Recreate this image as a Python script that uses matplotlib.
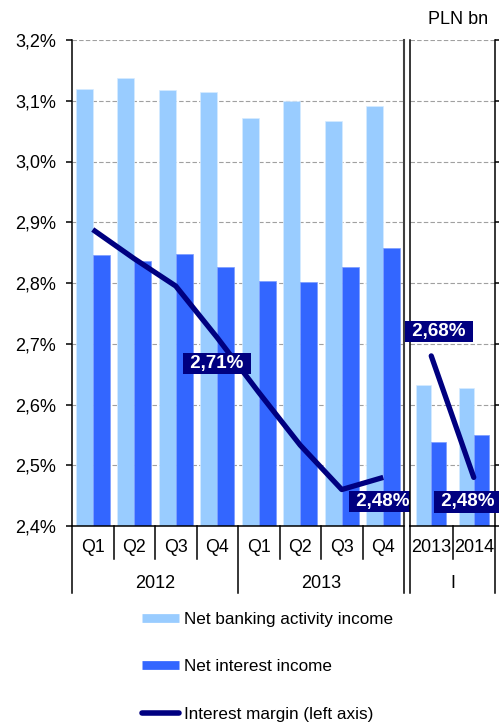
import numpy as np
import matplotlib
matplotlib.use("Agg")
import matplotlib.pyplot as plt
from matplotlib.lines import Line2D
from matplotlib.ticker import FuncFormatter

plt.rcParams['font.family'] = ['Liberation Sans', 'DejaVu Sans']

# quarterly data, 2012-2013
quarters = ['Q1', 'Q2', 'Q3', 'Q4', 'Q1', 'Q2', 'Q3', 'Q4']
years = ['2012', '2013']
banking_q = [3.119, 3.138, 3.117, 3.115, 3.071, 3.099, 3.066, 3.091]
interest_q = [2.846, 2.836, 2.848, 2.827, 2.803, 2.801, 2.827, 2.857]
margin_q = [2.888, 2.84, 2.795, 2.71, 2.62, 2.533, 2.46, 2.48]

# first quarter, year on year
q1_years = ['2013', '2014']
banking_q1 = [2.632, 2.627]
interest_q1 = [2.539, 2.550]
margin_q1 = [2.68, 2.48]

LIGHT = '#99CCFF'
DARK = '#3366FF'
NAVY = '#000080'

fig = plt.figure(figsize=(4.99, 7.23), dpi=100)
H = 723.0
W = 499.0
ax1 = fig.add_axes([72 / W, (H - 526) / H, (404 - 72) / W, 486 / H])
ax2 = fig.add_axes([410 / W, (H - 526) / H, (495 - 410) / W, 486 / H])

y_short = -33 / 486.0
y_long = -67 / 486.0


def pct(v, pos=None):
    return ('%.1f%%' % v).replace('.', ',')


def setup(ax, n):
    ax.set_ylim(2.4, 3.2)
    ax.set_xlim(-0.5, n - 0.5)
    ax.set_yticks(np.arange(2.4, 3.21, 0.1))
    ax.set_axisbelow(True)
    ax.yaxis.grid(True, color='#a0a0a0', lw=0.8, ls=(0, (4, 2)))
    ax.set_xticks([])
    ax.spines['top'].set_visible(False)
    for s in ['left', 'right', 'bottom']:
        ax.spines[s].set_linewidth(1.1)
        ax.spines[s].set_color('black')


def bar_label(ax, x, y, dx, dy):
    txt = ' ' + ('%.2f%%' % y).replace('.', ',') + ' '
    ax.annotate(txt, (x, y), xytext=(dx, dy), textcoords='offset pixels',
                ha='center', va='center', color='white', fontsize=13.5,
                fontweight='bold', zorder=10, annotation_clip=False,
                bbox=dict(boxstyle='square,pad=0.12', fc=NAVY, ec='none'))


# left panel
setup(ax1, len(quarters))
x = np.arange(len(quarters))
ax1.bar(x - 0.41, banking_q, 0.41, align='edge', bottom=0, color=LIGHT,
        edgecolor='#d6ebff', lw=0.5, zorder=2)
ax1.bar(x, interest_q, 0.41, align='edge', color=DARK,
        edgecolor='#7a9cff', lw=0.5, zorder=2)
ax1.plot(x, margin_q, color=NAVY, lw=3.8, zorder=5, solid_capstyle='butt')
ax1.spines['right'].set_color('#404040')
ax1.spines['right'].set_linewidth(1.5)
ax1.yaxis.set_major_formatter(FuncFormatter(pct))
ax1.tick_params(axis='y', direction='out', length=4.5, width=1.1,
                labelsize=13, pad=7)

tr1 = ax1.get_xaxis_transform()
for k in range(len(quarters) + 1):
    bottom = y_long if k in (0, 4, 8) else y_short
    ax1.plot([k - 0.5, k - 0.5], [0, bottom], color='black', lw=1.1,
             transform=tr1, clip_on=False)
    if k < len(quarters):
        ax1.text(k, -22 / 486.0, quarters[k], transform=tr1, ha='center',
                 va='center', fontsize=12.8)
for i, yr in enumerate(years):
    ax1.text(1.5 + 4 * i, -57 / 486.0, yr, transform=tr1, ha='center',
             va='center', fontsize=13)

bar_label(ax1, 3, margin_q[3], 0, -26)
bar_label(ax1, 7, margin_q[7], 0, -24)

# right panel
setup(ax2, len(q1_years))
x2 = np.arange(len(q1_years))
ax2.bar(x2 - 0.35, banking_q1, 0.35, align='edge', color=LIGHT,
        edgecolor='#d6ebff', lw=0.5, zorder=2)
ax2.bar(x2, interest_q1, 0.35, align='edge', color=DARK,
        edgecolor='#7a9cff', lw=0.5, zorder=2)
ax2.plot(x2, margin_q1, color=NAVY, lw=3.8, zorder=5, solid_capstyle='round')
ax2.yaxis.tick_right()
ax2.tick_params(axis='y', direction='out', length=3, width=1.1,
                labelright=False, labelleft=False)

tr2 = ax2.get_xaxis_transform()
for k in range(len(q1_years) + 1):
    bottom = y_short if k == 1 else y_long
    ax2.plot([k - 0.5, k - 0.5], [0, bottom], color='black', lw=1.1,
             transform=tr2, clip_on=False)
for i, yr in enumerate(q1_years):
    ax2.text(i, -22 / 486.0, yr, transform=tr2, ha='center', va='center',
             fontsize=13)
ax2.text(0.5, -57 / 486.0, 'I', transform=tr2, ha='center', va='center',
         fontsize=13)

bar_label(ax2, 0, margin_q1[0], 8, 24.5)
bar_label(ax2, 1, margin_q1[1], -6, -24.5)

fig.text(488 / W, 1 - 20 / H, 'PLN bn', ha='right', va='center', fontsize=13)

handles = [
    Line2D([], [], color=LIGHT, lw=6.3, solid_capstyle='butt'),
    Line2D([], [], color=DARK, lw=6.3, solid_capstyle='butt'),
    Line2D([], [], color=NAVY, lw=4, solid_capstyle='round'),
]
labels = ['Net banking activity income', 'Net interest income',
          'Interest margin (left axis)']
fig.legend(handles, labels, loc='upper left',
           bbox_to_anchor=(128 / W, 1 - 598 / H), frameon=False,
           fontsize=12.3, handlelength=2.2, handletextpad=0.25,
           labelspacing=1.92, borderpad=0.3)

fig.savefig('out.png', dpi=100)
